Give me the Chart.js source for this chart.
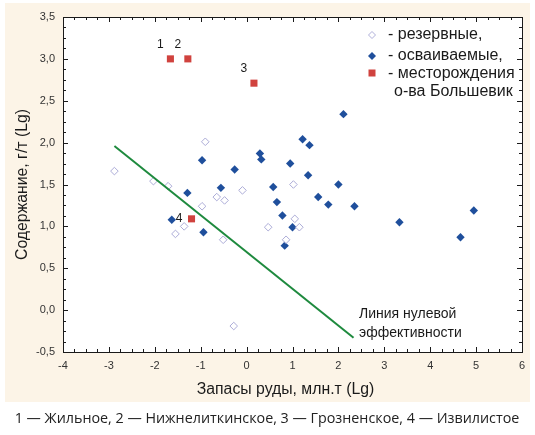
<!DOCTYPE html>
<html>
<head>
<meta charset="utf-8">
<script src="https://cdn.jsdelivr.net/npm/chart.js@4/dist/chart.umd.min.js"></script>
<style>
  html, body { margin: 0; padding: 0; background: #fff; }
  #wrap { width: 535px; height: 435px; }
</style>
</head>
<body>
<div id="wrap"><canvas id="myChart" width="535" height="435"></canvas></div>
<script>
// reserve deposits (hollow diamonds)
const reserveX = [-2.88, -2.03, -1.71, -0.90, -0.09, -0.65, -0.48, -0.97, -1.36, -1.55, -0.51, 1.02, 0.47, 1.05, 1.15, 0.86, -0.28];
const reserveY = [1.66, 1.54, 1.48, 2.01, 1.43, 1.35, 1.31, 1.24, 1.00, 0.91, 0.84, 1.50, 0.99, 1.09, 0.99, 0.84, -0.19];
// deposits being developed (filled diamonds)
const activeX = [-0.97, -0.26, -0.56, -1.29, -1.63, -0.94, 2.11, 1.22, 1.37, 0.29, 0.32, 0.95, 1.34, 0.58, 2.00, 1.56, 0.66, 1.78, 2.35, 0.78, 1.00, 0.83, 3.33, 4.95, 4.66];
const activeY = [1.79, 1.68, 1.46, 1.40, 1.08, 0.93, 2.34, 2.04, 1.97, 1.87, 1.80, 1.75, 1.61, 1.47, 1.50, 1.35, 1.29, 1.26, 1.24, 1.13, 0.99, 0.77, 1.05, 1.19, 0.87];
// Bolshevik island deposits
const islandX = [-1.66, -1.28, 0.16, -1.20];
const islandY = [3.00, 3.00, 2.71, 1.09];
const islandNums = ['1', '2', '3', '4'];
// zero efficiency line
const lineX = [-2.88, 2.33];
const lineY = [1.96, -0.33];

const xTicks = [-4, -3, -2, -1, 0, 1, 2, 3, 4, 5, 6];
const yTicks = [-0.5, 0, 0.5, 1, 1.5, 2, 2.5, 3, 3.5];

const legendItems = ['- резервные,', '- осваиваемые,', '- месторождения', 'о-ва Большевик'];
const xTitle = 'Запасы руды, млн.т (Lg)';
const yTitle = 'Содержание, г/т (Lg)';
const lineNote = ['Линия нулевой', 'эффективности'];
const caption = '1 — Жильное, 2 — Нижнелиткинское, 3 — Грозненское, 4 — Извилистое';

const toPts = (xs, ys) => xs.map((x, i) => ({x: x, y: ys[i]}));
const fmt = v => v.toFixed(1).replace('.', ',');

const decor = {
    id: 'decor',
    beforeDraw(chart) {
        const c = chart.ctx, a = chart.chartArea;
        c.save();
        c.fillStyle = '#fff';
        c.fillRect(0, 0, chart.width, chart.height);
        c.fillStyle = '#fcf4e7';
        c.fillRect(5, 3, 525, 399);
        c.fillStyle = '#fff';
        c.fillRect(a.left, a.top, a.right - a.left, a.bottom - a.top);
        c.restore();
    },
    afterDraw(chart) {
        const c = chart.ctx, a = chart.chartArea;
        const xs = chart.scales.x, ys = chart.scales.y;
        c.save();
        // frame
        c.strokeStyle = '#1a1a1a';
        c.lineWidth = 1;
        c.strokeRect(a.left + 0.5, a.top + 0.5, a.right - a.left, a.bottom - a.top);
        // inward tick marks, major + minor
        c.beginPath();
        for (let i = 0; i < xTicks.length - 1; i++) {
            for (let k = 0; k < 4; k++) {
                const v = xTicks[i] + k * (xTicks[i + 1] - xTicks[i]) / 4;
                const px = Math.round(xs.getPixelForValue(v)) + 0.5;
                const len = k === 0 ? 5 : 3;
                c.moveTo(px, a.bottom); c.lineTo(px, a.bottom - len);
                c.moveTo(px, a.top); c.lineTo(px, a.top + len);
            }
        }
        for (let i = 0; i < yTicks.length - 1; i++) {
            for (let k = 0; k < 4; k++) {
                const v = yTicks[i] + k * (yTicks[i + 1] - yTicks[i]) / 4;
                const py = Math.round(ys.getPixelForValue(v)) + 0.5;
                const len = k === 0 ? 5 : 3;
                c.moveTo(a.left, py); c.lineTo(a.left + len, py);
                c.moveTo(a.right, py); c.lineTo(a.right - len, py);
            }
        }
        c.stroke();

        // legend
        const lx = 372, ly = [35, 56, 74, 92];
        c.font = '16px "Liberation Sans", Arial, sans-serif';
        c.fillStyle = '#1a1a1a';
        c.textBaseline = 'middle';
        c.textAlign = 'left';
        c.fillText(legendItems[0], 388, ly[0]);
        c.fillText(legendItems[1], 388, ly[1]);
        c.fillText(legendItems[2], 388, ly[2]);
        c.fillText(legendItems[3], 394, ly[3]);
        // legend symbols
        c.beginPath();
        c.moveTo(lx, ly[0] - 3.5); c.lineTo(lx + 3.5, ly[0]); c.lineTo(lx, ly[0] + 3.5); c.lineTo(lx - 3.5, ly[0]); c.closePath();
        c.strokeStyle = '#b0b0da'; c.stroke();
        c.beginPath();
        c.moveTo(lx, ly[1] - 4); c.lineTo(lx + 4, ly[1]); c.lineTo(lx, ly[1] + 4); c.lineTo(lx - 4, ly[1]); c.closePath();
        c.fillStyle = '#1f4f9c'; c.fill();
        c.fillStyle = '#d0423e';
        c.fillRect(lx - 3.5, ly[2] - 4.5, 7, 7);

        // point numbers
        c.fillStyle = '#1a1a1a';
        c.font = '12px "Liberation Sans", Arial, sans-serif';
        c.textAlign = 'center';
        for (let i = 0; i < 3; i++) {
            c.fillText(islandNums[i], xs.getPixelForValue(islandX[i]) - 10, ys.getPixelForValue(islandY[i]) - 14);
        }
        c.textAlign = 'right';
        c.fillText(islandNums[3], xs.getPixelForValue(islandX[3]) - 9, ys.getPixelForValue(islandY[3]));

        // line note
        c.font = '14px "Liberation Sans", Arial, sans-serif';
        c.textAlign = 'left';
        c.fillText(lineNote[0], xs.getPixelForValue(2.45), ys.getPixelForValue(-0.05));
        c.fillText(lineNote[1], xs.getPixelForValue(2.45), ys.getPixelForValue(-0.27));

        // axis titles
        c.font = '15.8px "Liberation Sans", Arial, sans-serif';
        c.textAlign = 'center';
        c.fillText(xTitle, (a.left + a.right) / 2 - 7, 390);
        c.save();
        c.translate(23, (a.top + a.bottom) / 2);
        c.rotate(-Math.PI / 2);
        c.fillText(yTitle, 0, 0);
        c.restore();

        // caption
        let size = 14;
        c.font = size + 'px "Open Sans", sans-serif';
        size = size * 505 / c.measureText(caption).width;
        c.font = size.toFixed(2) + 'px "Open Sans", sans-serif';
        c.fillStyle = '#222';
        c.fillText(caption, 267, 419);
        c.restore();
    }
};

new Chart(document.getElementById('myChart'), {
    type: 'scatter',
    data: {
        datasets: [{
            label: 'line',
            type: 'line',
            data: toPts(lineX, lineY),
            borderColor: '#1e8a3e',
            borderWidth: 2,
            pointRadius: 0,
            fill: false
        }, {
            label: 'резервные',
            data: toPts(reserveX, reserveY),
            pointStyle: 'rectRot',
            pointRadius: 3.8,
            pointBorderWidth: 1,
            pointBorderColor: '#adadd8',
            pointBackgroundColor: '#fff'
        }, {
            label: 'осваиваемые',
            data: toPts(activeX, activeY),
            pointStyle: 'rectRot',
            pointRadius: 4.2,
            pointBorderWidth: 0,
            pointBackgroundColor: '#1f4f9c',
            pointBorderColor: '#1f4f9c'
        }, {
            label: 'месторождения о-ва Большевик',
            data: toPts(islandX, islandY),
            pointStyle: 'rect',
            pointRadius: 5,
            pointBorderWidth: 0,
            pointBackgroundColor: '#d0423e',
            pointBorderColor: '#d0423e'
        }]
    },
    options: {
        responsive: false,
        animation: false,
        layout: {
            padding: { left: 10, right: 13, top: 17, bottom: 0 }
        },
        plugins: {
            legend: { display: false },
            tooltip: { enabled: false }
        },
        scales: {
            x: {
                min: -4,
                max: 6,
                afterBuildTicks: s => { s.ticks = xTicks.map(v => ({value: v})); },
                afterFit: s => { s.height = 83; },
                grid: { display: false, drawTicks: false },
                border: { display: false },
                ticks: {
                    padding: 7,
                    color: '#333',
                    font: { family: '"Liberation Sans", Arial', size: 11 },
                    callback: v => String(v)
                }
            },
            y: {
                min: -0.5,
                max: 3.5,
                afterBuildTicks: s => { s.ticks = yTicks.map(v => ({value: v})); },
                afterFit: s => { s.width = 53; },
                grid: { display: false, drawTicks: false },
                border: { display: false },
                ticks: {
                    padding: 8,
                    color: '#333',
                    font: { family: '"Liberation Sans", Arial', size: 11 },
                    callback: v => fmt(v)
                }
            }
        }
    },
    plugins: [decor]
});
</script>
</body>
</html>
